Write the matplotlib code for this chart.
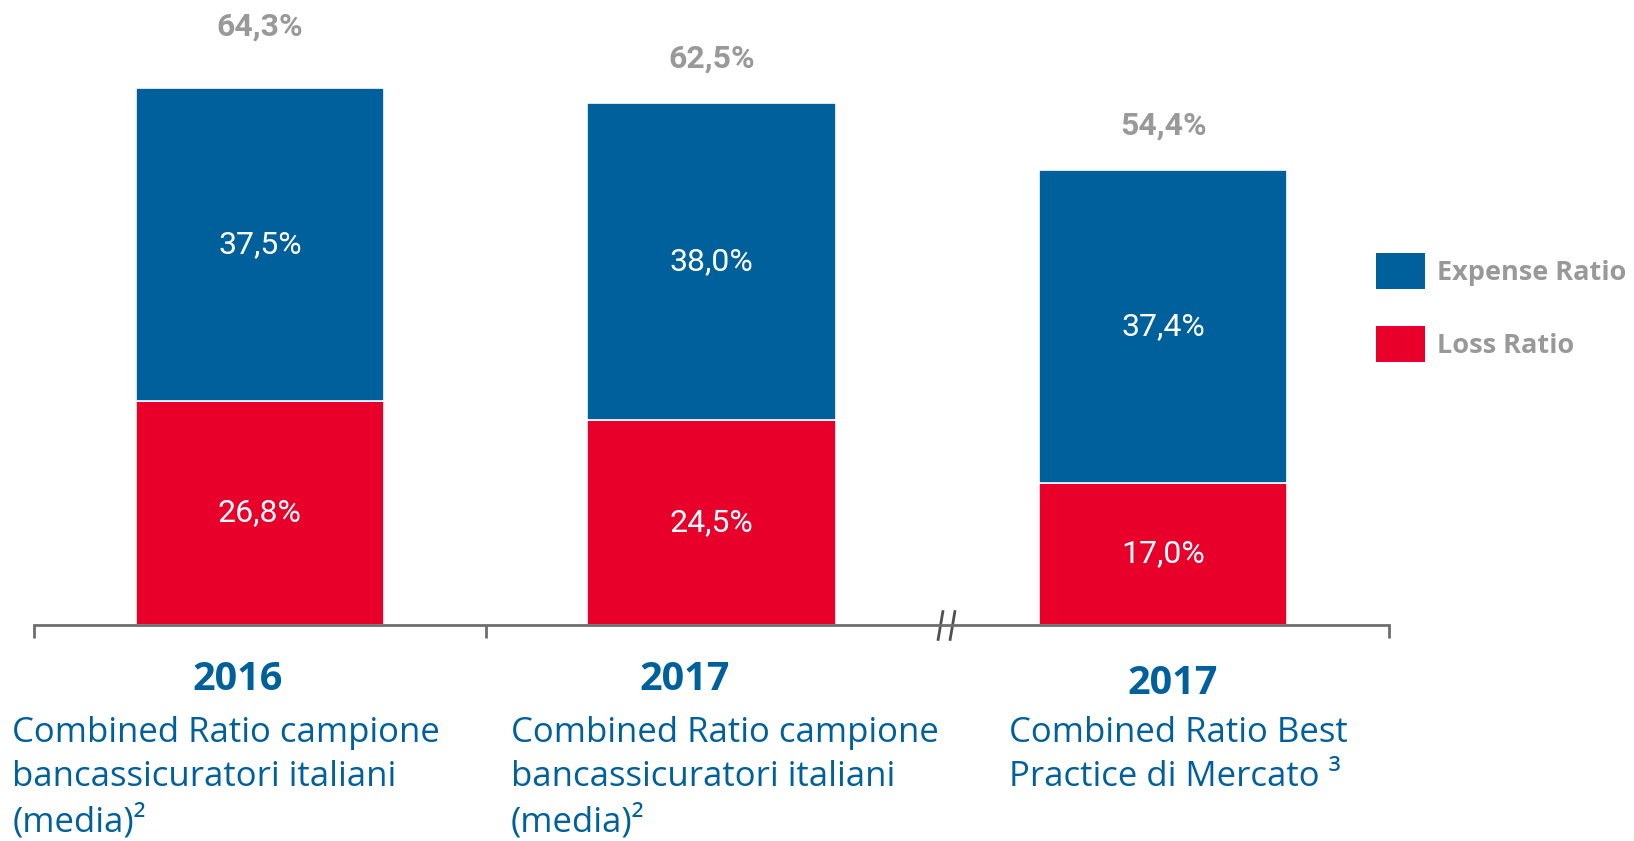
import matplotlib.pyplot as plt
import numpy as np
from matplotlib.patches import Patch

# data
years = ['2016', '2017', '2017']
descriptions = [
    'Combined Ratio campione\nbancassicuratori italiani\n(media)²',
    'Combined Ratio campione\nbancassicuratori italiani\n(media)²',
    'Combined Ratio Best\nPractice di Mercato ³',
]
loss_ratio = [26.8, 24.5, 17.0]
expense_ratio = [37.5, 38.0, 37.4]
combined_ratio = [64.3, 62.5, 54.4]

BLUE = '#00609C'
RED = '#E8002A'
GREY = '#999999'
AXIS = '#6E6E6E'
FONT = 'Open Sans'
NUMFONT = 'Roboto'


def pct(v):
    return f'{v:.1f}'.replace('.', ',') + '%'


fig = plt.figure(figsize=(16.34, 8.41), dpi=100)
ax = fig.add_axes([34 / 1634, 1 - 625 / 841, 1355 / 1634, 625 / 841])

x = np.arange(len(years))
loss_bars = ax.bar(x, loss_ratio, width=0.55, color=RED, edgecolor='white', linewidth=1.2)
exp_bars = ax.bar(x, expense_ratio, width=0.55, bottom=loss_ratio, color=BLUE,
                  edgecolor='white', linewidth=1.2)

# segment labels
for i in range(len(x)):
    ax.text(x[i], loss_ratio[i] / 2, pct(loss_ratio[i]), ha='center', va='center',
            color='white', fontsize=23, family=NUMFONT)
    ax.text(x[i], loss_ratio[i] + expense_ratio[i] / 2, pct(expense_ratio[i]),
            ha='center', va='center', color='white', fontsize=23, family=NUMFONT)

# totals above the bars (first one sits a bit higher in the original)
total_gap = [7.3, 5.3, 5.4]
for i in range(len(x)):
    ax.text(x[i], combined_ratio[i] + total_gap[i], pct(combined_ratio[i]),
            ha='center', va='center', color=GREY, fontsize=23, fontweight='bold',
            family=NUMFONT)

ax.set_xlim(-0.5, 2.5)
ax.set_ylim(0, 74.8)

for s in ['top', 'right', 'left']:
    ax.spines[s].set_visible(False)
ax.spines['bottom'].set_color(AXIS)
ax.spines['bottom'].set_linewidth(2)
ax.set_yticks([])
ax.set_xticks([-0.5, 0.5, 2.5])
ax.set_xticklabels([])
ax.tick_params(axis='x', direction='out', length=9, width=2, color=AXIS)

# axis break between the second and third group
ax.plot([1.506, 1.533], [0, 0], linestyle='none', marker=[(-0.17, -1), (0.17, 1)],
        markersize=22, markeredgewidth=2, color='#505050', clip_on=False)

# category labels under the axis
trans = ax.get_xaxis_transform()
year_pos = [(-0.05, -0.088), (0.94, -0.088), (2.02, -0.094)]
desc_pos = [(-0.548, -0.146), (0.556, -0.146), (1.658, -0.146)]
for i in range(len(years)):
    ax.text(year_pos[i][0], year_pos[i][1], years[i], transform=trans, ha='center',
            va='center', color=BLUE, fontsize=28.5, fontweight='bold', family=FONT)
    ax.text(desc_pos[i][0], desc_pos[i][1], descriptions[i], transform=trans, ha='left',
            va='top', color=BLUE, fontsize=25, family=FONT, linespacing=1.37)

handles = [Patch(facecolor=BLUE, label='Expense Ratio'),
           Patch(facecolor=RED, label='Loss Ratio')]
leg = fig.legend(handles=handles, loc='upper left', bbox_to_anchor=(1376 / 1634, 1 - 253 / 841),
                 frameon=False, borderpad=0, borderaxespad=0, handlelength=1.8,
                 handleheight=1.69, handletextpad=0.45, labelspacing=1.35,
                 prop={'family': FONT, 'weight': 'bold', 'size': 19.5})
for t in leg.get_texts():
    t.set_color(GREY)

fig.savefig('out.png', dpi=100)
